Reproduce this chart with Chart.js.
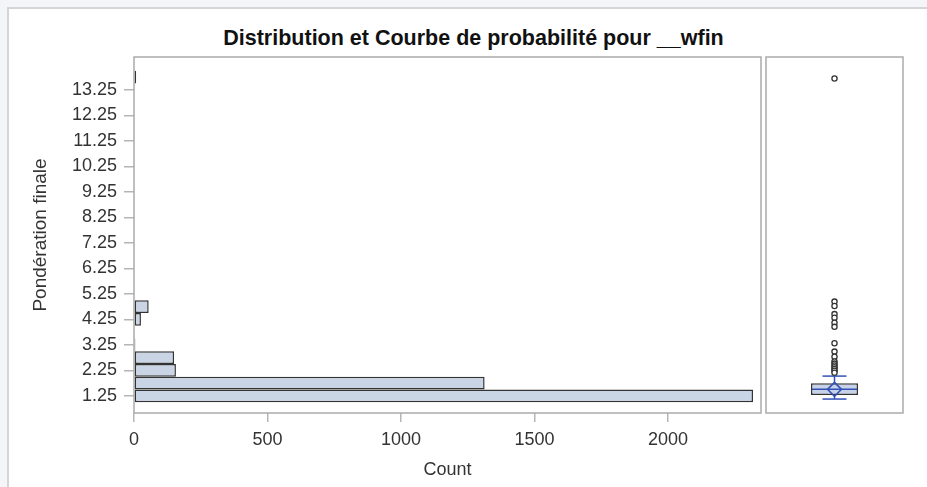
<!DOCTYPE html>
<html lang="fr">
<head>
  <meta charset="UTF-8" />
  <title>Distribution et Courbe de probabilité pour __wfin</title>
  <script src="https://cdn.jsdelivr.net/npm/chart.js"></script>
  <style>
    body {
      margin: 0;
      width: 927px;
      height: 487px;
      background: #f3f5f9;
      position: relative;
      overflow: hidden;
      font-family: 'Liberation Sans', Arial, sans-serif;
    }
    #sheet {
      position: absolute;
      left: 7px;
      top: 7px;
      width: 930px;
      height: 490px;
      background: #fff;
      border-top: 2px solid #d5d5d5;
      border-left: 2px solid #d5d5d5;
    }
    #title {
      position: absolute;
      left: 0;
      top: 25px;
      width: 947px;
      text-align: center;
      font-weight: bold;
      font-size: 21.5px;
      line-height: 26px;
      color: #111;
    }
    canvas {
      position: absolute;
      left: 0;
      top: 0;
    }
  </style>
</head>
<body>
  <div id="sheet"></div>
  <div id="title">Distribution et Courbe de probabilité pour __wfin</div>
  <canvas id="histChart" width="927" height="487"></canvas>
  <canvas id="boxChart" width="927" height="487"></canvas>

  <script>
    // histogram bins (width 0.5) and counts
    const binCenters = [1.25, 1.75, 2.25, 2.75, 3.25, 3.75, 4.25, 4.75, 5.25, 5.75,
                        6.25, 6.75, 7.25, 7.75, 8.25, 8.75, 9.25, 9.75, 10.25, 10.75,
                        11.25, 11.75, 12.25, 12.75, 13.25, 13.75];
    const counts = [2318, 1313, 157, 150, 5, 0, 26, 55, 0, 0,
                    0, 0, 0, 0, 0, 0, 0, 0, 0, 0,
                    0, 0, 0, 0, 0, 8];
    const yTicks = [1.25, 2.25, 3.25, 4.25, 5.25, 6.25, 7.25, 8.25, 9.25, 10.25, 11.25, 12.25, 13.25];
    const xTicks = [0, 500, 1000, 1500, 2000];

    // box plot: [lower whisker, Q1, median, Q3, upper whisker]
    const boxStats = [1.13, 1.29, 1.51, 1.75, 2.03];
    const boxMean = [1.51];
    const outliers = [13.70, 4.95, 4.78, 4.46, 4.32, 4.12, 3.96, 3.32, 2.99, 2.79,
                      2.60, 2.52, 2.45, 2.38, 2.31, 2.24, 2.16];

    const yMin = 0.583, yMax = 14.54, xMax = 2348;
    const frameColor = '#ababab';
    const boxBlue = '#3151b7';

    Chart.defaults.font.family = "'Liberation Sans', Arial, sans-serif";
    Chart.defaults.color = '#333';

    const framePlugin = {
      id: 'frame',
      beforeDatasetsDraw(chart) {
        const a = chart.chartArea;
        const ctx = chart.ctx;
        ctx.save();
        ctx.strokeStyle = frameColor;
        ctx.lineWidth = 1.5;
        ctx.strokeRect(a.left, a.top, a.right - a.left, a.bottom - a.top);
        ctx.restore();
      }
    };

    // Histogram (horizontal bars)
    new Chart(document.getElementById('histChart'), {
      type: 'bar',
      data: {
        datasets: [{
          data: binCenters.map((c, i) => ({ x: counts[i], y: c })),
          backgroundColor: '#c9d4e5',
          borderColor: '#333',
          borderWidth: 1.5,
          borderSkipped: false,
          inflateAmount: 0,
          barPercentage: 1,
          categoryPercentage: 1
        }]
      },
      options: {
        indexAxis: 'y',
        responsive: false,
        animation: false,
        layout: { padding: { left: 0, top: 57, right: 166, bottom: 0 } },
        plugins: { legend: { display: false }, tooltip: { enabled: false } },
        scales: {
          y: {
            type: 'linear',
            min: yMin,
            max: yMax,
            offset: false,
            afterBuildTicks: s => { s.ticks = yTicks.map(v => ({ value: v })); },
            afterFit: s => { s.width = 134; },
            ticks: {
              autoSkip: false,
              padding: 7,
              font: { size: 18 },
              color: '#333',
              callback: v => v.toFixed(2)
            },
            grid: { offset: false, drawOnChartArea: false, tickLength: 10, color: '#b5b5b5', lineWidth: 1.5 },
            border: { display: false },
            title: {
              display: true,
              text: 'Pondération finale',
              font: { size: 19 },
              color: '#333',
              padding: { top: 29, bottom: 0 }
            }
          },
          x: {
            type: 'linear',
            min: 0,
            max: xMax,
            afterBuildTicks: s => { s.ticks = xTicks.map(v => ({ value: v })); },
            afterFit: s => { s.height = 74; },
            ticks: {
              autoSkip: false,
              maxRotation: 0,
              padding: 7,
              font: { size: 18 },
              color: '#333',
              callback: v => String(v)
            },
            grid: { drawOnChartArea: false, tickLength: 9, color: '#b5b5b5', lineWidth: 1.5 },
            border: { display: false },
            title: {
              display: true,
              text: 'Count',
              font: { size: 18 },
              color: '#333',
              padding: { top: 0, bottom: 6 }
            }
          }
        }
      },
      plugins: [framePlugin]
    });

    // Box plot panel
    const mid = 0.5;
    new Chart(document.getElementById('boxChart'), {
      type: 'bar',
      data: {
        datasets: [
          {
            type: 'bar',
            order: 5,
            data: [{ x: mid, y: [boxStats[1], boxStats[3]] }],
            backgroundColor: '#c7d2e8',
            borderColor: '#333',
            borderWidth: 1.5,
            borderSkipped: false,
            inflateAmount: 0,
            barThickness: 47
          },
          {
            type: 'line',
            order: 4,
            data: [{ x: mid, y: boxStats[3] }, { x: mid, y: boxStats[4] }],
            borderColor: boxBlue,
            borderWidth: 1.5,
            pointRadius: 0
          },
          {
            type: 'line',
            order: 4,
            data: [{ x: mid, y: boxStats[0] }, { x: mid, y: boxStats[1] }],
            borderColor: boxBlue,
            borderWidth: 1.5,
            pointRadius: 0
          },
          {
            type: 'scatter',
            order: 3,
            data: [{ x: mid, y: boxStats[0] }, { x: mid, y: boxStats[4] }],
            pointStyle: 'line',
            pointRadius: 12,
            borderColor: boxBlue,
            borderWidth: 1.5
          },
          {
            type: 'scatter',
            order: 3,
            data: [{ x: mid, y: boxStats[2] }],
            pointStyle: 'line',
            pointRadius: 22.5,
            borderColor: boxBlue,
            borderWidth: 1.5
          },
          {
            type: 'scatter',
            order: 2,
            data: boxMean.map(v => ({ x: mid, y: v })),
            pointStyle: 'rectRot',
            pointRadius: 7,
            backgroundColor: 'rgba(0,0,0,0)',
            borderColor: boxBlue,
            borderWidth: 1.5
          },
          {
            type: 'scatter',
            order: 1,
            data: outliers.map(v => ({ x: mid, y: v })),
            pointStyle: 'circle',
            pointRadius: 2.6,
            backgroundColor: '#fff',
            borderColor: '#333',
            borderWidth: 1.3
          }
        ]
      },
      options: {
        responsive: false,
        animation: false,
        layout: { padding: { left: 766, top: 57, right: 4, bottom: 74 } },
        plugins: { legend: { display: false }, tooltip: { enabled: false } },
        scales: {
          x: { type: 'linear', min: 0, max: 1, offset: false, display: false },
          y: { type: 'linear', min: yMin, max: yMax, display: false }
        }
      },
      plugins: [framePlugin]
    });
  </script>
</body>
</html>
